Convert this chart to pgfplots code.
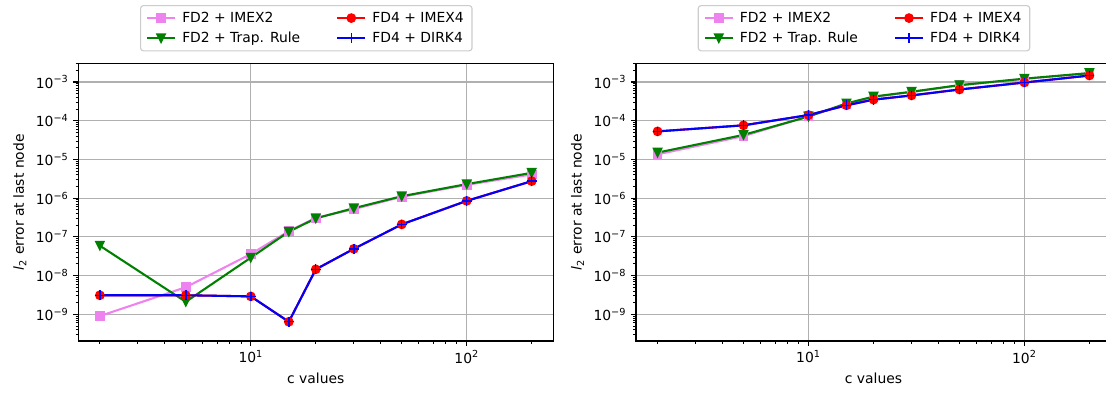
\documentclass[border=0pt]{standalone}
\usepackage{fontspec}
\setmainfont{DejaVu Sans}
\usepackage{pgfplots}
\pgfplotsset{compat=1.18}
\definecolor{mpviolet}{HTML}{EE82EE}
\definecolor{mpgreen}{HTML}{008000}
\definecolor{mpgrid}{HTML}{B0B0B0}
\definecolor{mpleg}{HTML}{CCCCCC}
\pgfdeclareplotmark{mptridown}{%
  \pgfpathmoveto{\pgfqpoint{0pt}{-\pgfplotmarksize}}%
  \pgfpathlineto{\pgfqpoint{-\pgfplotmarksize}{\pgfplotmarksize}}%
  \pgfpathlineto{\pgfqpoint{\pgfplotmarksize}{\pgfplotmarksize}}%
  \pgfpathclose\pgfusepathqfillstroke}
\pgfplotsset{
  mpaxis/.style={
    scale only axis, width=342pt, height=199.94pt,
    xmin=1.589, xmax=251.8, ymin=2.04e-10, ymax=3.04e-3,
    axis line style={line width=0.8pt, black},
    tick align=outside, xtick pos=bottom, ytick pos=left,
    major tick length=3.5pt, minor tick length=2pt,
    every major tick/.append style={line width=0.8pt, black},
    every minor tick/.append style={line width=0.6pt, black},
    xtick={10,100}, xticklabels={10\textsuperscript{1},10\textsuperscript{2}},
    minor xtick={2,3,4,5,6,7,8,9,20,30,40,50,60,70,80,90,200},
    ytick={1e-9,1e-8,1e-7,1e-6,1e-5,1e-4,1e-3},
    yticklabels={10\textsuperscript{−9},10\textsuperscript{−8},10\textsuperscript{−7},10\textsuperscript{−6},10\textsuperscript{−5},10\textsuperscript{−4},10\textsuperscript{−3}},
    minor ytick={3e-10,4e-10,5e-10,6e-10,7e-10,8e-10,9e-10,
      2e-9,3e-9,4e-9,5e-9,6e-9,7e-9,8e-9,9e-9,
      2e-8,3e-8,4e-8,5e-8,6e-8,7e-8,8e-8,9e-8,
      2e-7,3e-7,4e-7,5e-7,6e-7,7e-7,8e-7,9e-7,
      2e-6,3e-6,4e-6,5e-6,6e-6,7e-6,8e-6,9e-6,
      2e-5,3e-5,4e-5,5e-5,6e-5,7e-5,8e-5,9e-5,
      2e-4,3e-4,4e-4,5e-4,6e-4,7e-4,8e-4,9e-4,
      2e-3,3e-3},
    grid=major, major grid style={mpgrid, line width=0.8pt},
    ticklabel style={font=\fontsize{10}{12}\selectfont},
    xlabel={c values}, ylabel={\textit{l}\textsubscript{2} error at last node},
    label style={font=\fontsize{10}{12}\selectfont},
    legend columns=2, transpose legend, legend cell align=left,
    legend style={at={(0.48,1.043)}, anchor=south, draw=mpleg, line width=0.8pt,
      rounded corners=2pt, fill=white, font=\fontsize{10}{12}\selectfont,
      inner xsep=4pt, inner ysep=2.5pt, row sep=1.5pt,
      /tikz/every even column/.append style={column sep=24pt},
      /tikz/every odd column/.append style={column sep=2.5pt}},
    legend image code/.code={\draw[mark repeat=2,mark phase=2] plot coordinates {(0pt,0pt)(10pt,0pt)(20pt,0pt)};},
  },
  pinkS/.style={mpviolet, line width=1.5pt, mark=square*, mark size=3pt, mark options={solid, line width=1pt, fill=mpviolet}},
  greenS/.style={mpgreen, line width=1.5pt, mark=mptridown, mark size=3pt, mark options={solid, line width=1pt, fill=mpgreen}},
  redS/.style={red, line width=1.5pt, mark=*, mark size=3pt, mark options={solid, line width=1pt, fill=red}},
  blueS/.style={blue, line width=1.5pt, mark=+, mark size=3.5pt, mark options={solid, line width=1pt}},
}
\begin{document}
\begin{tikzpicture}
\begin{loglogaxis}[mpaxis, at={(56.38pt,38.16pt)}, anchor=south west]
\addplot[pinkS] coordinates {(2,9.0e-10)(5,5.0e-9)(10,3.6e-8)(15,1.4e-7)(20,3.1e-7)(30,5.2e-7)(50,1.08e-6)(100,2.2e-6)(200,4.1e-6)};
\addlegendentry{FD2 + IMEX2}
\addplot[greenS] coordinates {(2,5.9e-8)(5,2.1e-9)(10,2.9e-8)(15,1.36e-7)(20,3.0e-7)(30,5.5e-7)(50,1.12e-6)(100,2.3e-6)(200,4.5e-6)};
\addlegendentry{FD2 + Trap. Rule}
\addplot[redS] coordinates {(2,3.1e-9)(5,3.1e-9)(10,2.9e-9)(15,6.4e-10)(20,1.45e-8)(30,4.9e-8)(50,2.1e-7)(100,8.5e-7)(200,2.75e-6)};
\addlegendentry{FD4 + IMEX4}
\addplot[blueS] coordinates {(2,3.1e-9)(5,3.1e-9)(10,2.9e-9)(15,6.4e-10)(20,1.45e-8)(30,4.9e-8)(50,2.1e-7)(100,8.5e-7)(200,2.75e-6)};
\addlegendentry{FD4 + DIRK4}
\end{loglogaxis}
\begin{loglogaxis}[mpaxis, at={(457.92pt,38.16pt)}, anchor=south west]
\addplot[pinkS] coordinates {(2,1.35e-5)(5,4.0e-5)(10,1.3e-4)(15,2.7e-4)(20,4.1e-4)(30,5.5e-4)(50,8.2e-4)(100,1.2e-3)(200,1.68e-3)};
\addlegendentry{FD2 + IMEX2}
\addplot[greenS] coordinates {(2,1.5e-5)(5,4.3e-5)(10,1.28e-4)(15,2.8e-4)(20,4.2e-4)(30,5.6e-4)(50,8.3e-4)(100,1.22e-3)(200,1.7e-3)};
\addlegendentry{FD2 + Trap. Rule}
\addplot[redS] coordinates {(2,5.3e-5)(5,7.6e-5)(10,1.4e-4)(15,2.5e-4)(20,3.5e-4)(30,4.5e-4)(50,6.4e-4)(100,9.7e-4)(200,1.47e-3)};
\addlegendentry{FD4 + IMEX4}
\addplot[blueS] coordinates {(2,5.3e-5)(5,7.6e-5)(10,1.4e-4)(15,2.5e-4)(20,3.5e-4)(30,4.5e-4)(50,6.4e-4)(100,9.7e-4)(200,1.47e-3)};
\addlegendentry{FD4 + DIRK4}
\end{loglogaxis}
\pgfresetboundingbox
\useasboundingbox (0,0) rectangle (796.32pt,283.68pt);
\end{tikzpicture}
\end{document}
